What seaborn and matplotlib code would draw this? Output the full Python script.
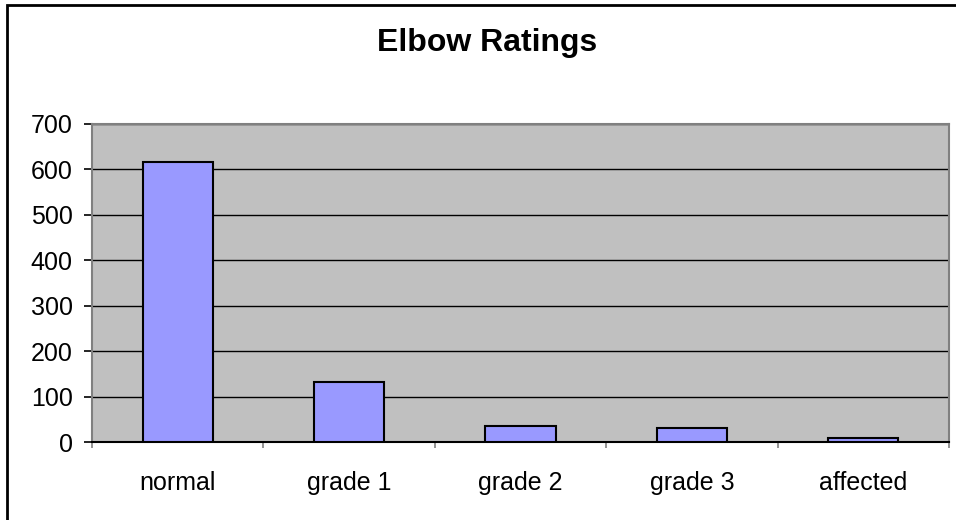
import pandas as pd
import matplotlib.pyplot as plt
import matplotlib.patches as mpatches
import seaborn as sns

# Data
categories = ['normal', 'grade 1', 'grade 2', 'grade 3', 'affected']
counts = [616, 132, 35, 30, 8]
y_ticks = [0, 100, 200, 300, 400, 500, 600, 700]

df = pd.DataFrame({'rating': categories, 'count': counts})

sns.set_style('white')
plt.rcParams['font.family'] = ['Liberation Sans', 'DejaVu Sans']
plt.rcParams['text.color'] = 'black'
plt.rcParams['xtick.color'] = 'black'
plt.rcParams['ytick.color'] = 'black'

fig = plt.figure(figsize=(9.56, 5.2), dpi=100)
ax = fig.add_axes([92 / 956, 1 - 442 / 520, (949 - 92) / 956, (442 - 124) / 520])
ax.set_facecolor('#C0C0C0')

sns.barplot(data=df, x='rating', y='count', color='#9999FF', width=0.41,
            edgecolor='black', linewidth=1.5, saturation=1, ax=ax, zorder=3)

# Gridlines
ax.set_ylim(0, 700)
ax.set_yticks(y_ticks)
ax.yaxis.grid(True, color='black', linewidth=1, zorder=1)
ax.set_axisbelow(True)

# x ticks between categories
ax.set_xlim(-0.5, len(categories) - 0.5)
ax.set_xticks(range(len(categories)))
ax.set_xticklabels(categories, fontsize=18)
ax.tick_params(axis='x', which='major', bottom=True, length=0, pad=21)
ax.set_xticks([i - 0.5 for i in range(len(categories) + 1)], minor=True)
ax.tick_params(axis='x', which='minor', bottom=True, length=4.5,
               color='#808080', width=1.2)
ax.tick_params(axis='y', left=True, labelsize=18, length=6, width=1.2,
               color='black', pad=8)

for side in ['top', 'right', 'left']:
    ax.spines[side].set_color('#808080')
    ax.spines[side].set_linewidth(1.5)
ax.spines['bottom'].set_color('black')
ax.spines['bottom'].set_linewidth(1.5)

ax.set_xlabel('')
ax.set_ylabel('')

fig.text(487 / 956, 1 - 43 / 520, 'Elbow Ratings', ha='center', va='center',
         fontsize=23, fontweight='bold', color='black')

# Chart area border
border = mpatches.Rectangle((7 / 956, -0.1), 1.2, 1.1 - 5 / 520,
                            transform=fig.transFigure, fill=False,
                            edgecolor='black', linewidth=2, clip_on=False)
fig.patches.append(border)

fig.savefig('out.png', dpi=100)
